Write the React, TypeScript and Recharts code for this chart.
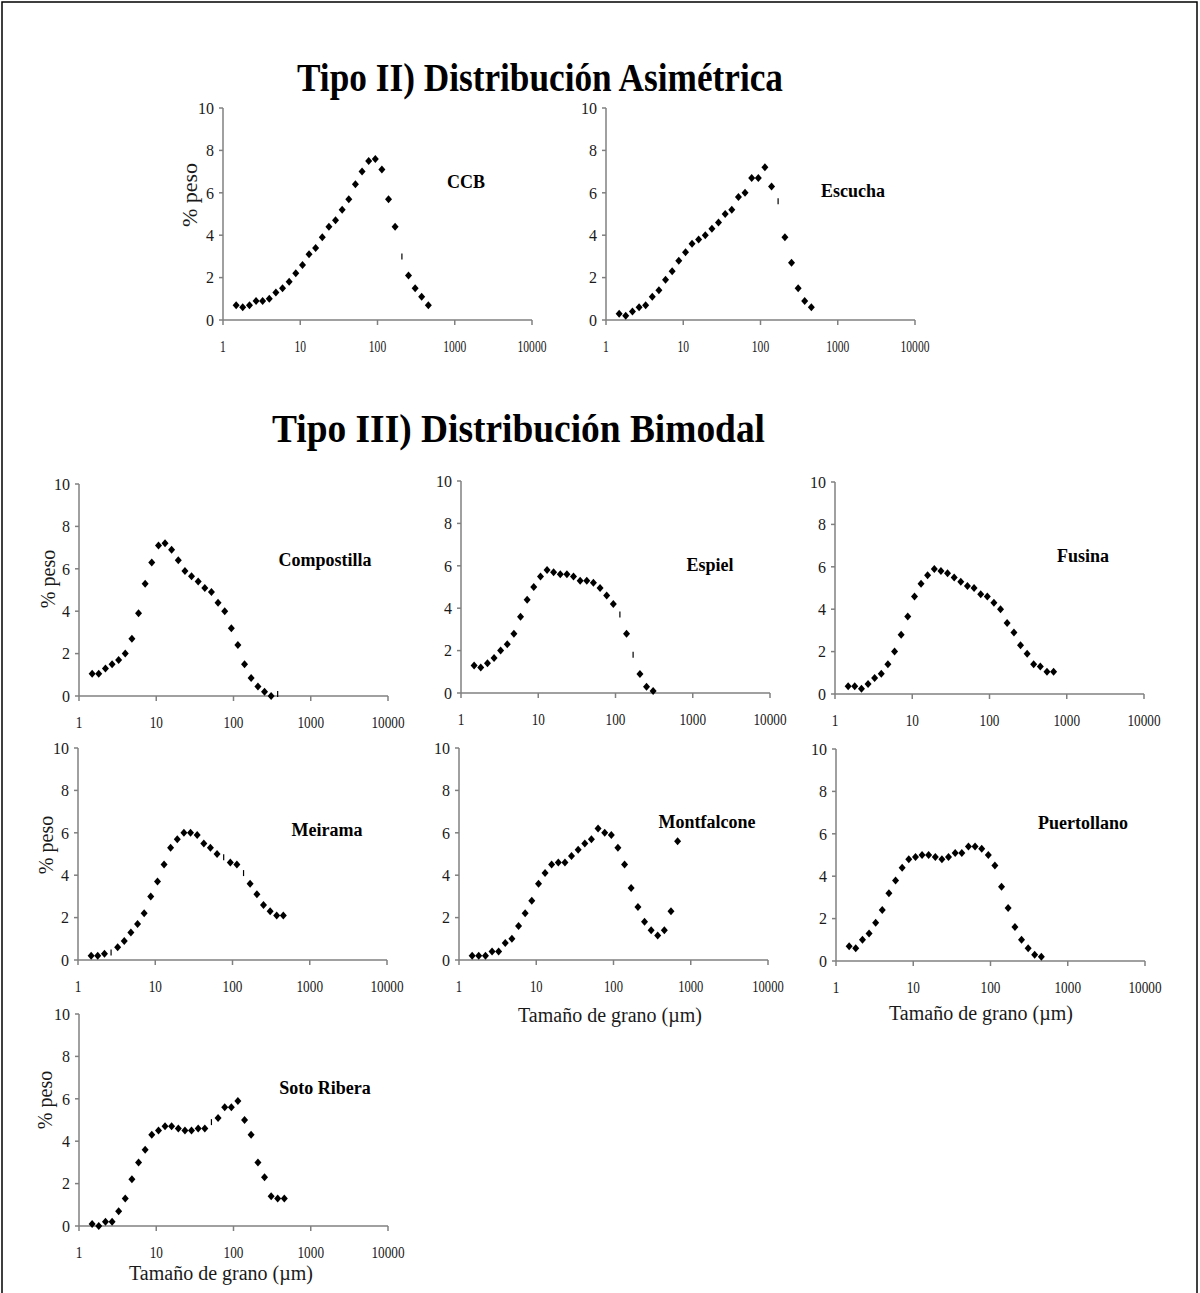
import React from 'react';
import { ScatterChart, Scatter, XAxis, YAxis } from 'recharts';

// particle size classes (µm), shared by every panel
const SIZES = [
  1.48, 1.8, 2.2, 2.68, 3.26, 3.97, 4.84, 5.9, 7.18, 8.75, 10.7, 13.0, 15.8, 19.3, 23.5, 28.6,
  34.9, 42.5, 51.8, 63.1, 76.9, 93.7, 114, 139, 169, 207, 252, 307, 373, 455, 555, 676,
];
const X_TICKS = [1, 10, 100, 1000, 10000];
const Y_TICKS = [0, 2, 4, 6, 8, 10];

// % peso per size class
const ccb = [0.7, 0.6, 0.7, 0.9, 0.9, 1.0, 1.3, 1.5, 1.8, 2.2, 2.6, 3.1, 3.4, 3.9, 4.4, 4.7, 5.2, 5.7, 6.4, 7.0, 7.5, 7.6, 7.1, 5.7, 4.4, 3.0, 2.1, 1.5, 1.1, 0.7];
const escucha = [0.3, 0.2, 0.4, 0.6, 0.7, 1.1, 1.4, 1.9, 2.3, 2.8, 3.2, 3.6, 3.8, 4.0, 4.3, 4.6, 5.0, 5.2, 5.8, 6.0, 6.7, 6.7, 7.2, 6.3, 5.6, 3.9, 2.7, 1.5, 0.9, 0.6];
const compostilla = [1.05, 1.05, 1.3, 1.5, 1.7, 2.0, 2.7, 3.9, 5.3, 6.3, 7.1, 7.2, 6.9, 6.4, 5.9, 5.65, 5.4, 5.1, 4.9, 4.4, 4.0, 3.2, 2.4, 1.5, 0.85, 0.45, 0.2, 0.0, 0.1];
const espiel = [1.3, 1.2, 1.4, 1.65, 2.0, 2.3, 2.8, 3.6, 4.4, 5.0, 5.5, 5.8, 5.7, 5.6, 5.6, 5.5, 5.3, 5.3, 5.2, 4.95, 4.6, 4.2, 3.7, 2.8, 1.8, 0.9, 0.3, 0.1];
const fusina = [0.37, 0.37, 0.25, 0.47, 0.76, 0.95, 1.4, 2.0, 2.8, 3.65, 4.6, 5.2, 5.6, 5.9, 5.8, 5.7, 5.5, 5.3, 5.1, 5.0, 4.7, 4.6, 4.3, 4.0, 3.35, 2.9, 2.3, 1.9, 1.4, 1.3, 1.05, 1.05];
const meirama = [0.2, 0.2, 0.3, 0.35, 0.6, 0.9, 1.3, 1.7, 2.2, 3.0, 3.7, 4.5, 5.3, 5.7, 6.0, 6.0, 5.9, 5.5, 5.3, 5.0, 4.85, 4.6, 4.5, 4.1, 3.6, 3.1, 2.6, 2.3, 2.1, 2.1];
const montfalcone = [0.2, 0.2, 0.2, 0.4, 0.4, 0.8, 1.0, 1.6, 2.2, 2.8, 3.6, 4.1, 4.5, 4.6, 4.6, 4.9, 5.2, 5.5, 5.7, 6.2, 6.0, 5.9, 5.3, 4.5, 3.4, 2.5, 1.8, 1.4, 1.15, 1.4, 2.3, 5.6];
const puertollano = [0.7, 0.6, 1.0, 1.3, 1.8, 2.4, 3.2, 3.8, 4.4, 4.8, 4.9, 5.0, 5.0, 4.9, 4.8, 4.9, 5.1, 5.1, 5.4, 5.4, 5.3, 5.0, 4.5, 3.5, 2.5, 1.6, 1.0, 0.6, 0.3, 0.2];
const sotoRibera = [0.1, 0.0, 0.2, 0.2, 0.7, 1.3, 2.2, 3.0, 3.6, 4.3, 4.5, 4.7, 4.7, 4.6, 4.5, 4.5, 4.6, 4.6, 4.9, 5.1, 5.6, 5.6, 5.9, 5.0, 4.3, 3.0, 2.3, 1.4, 1.3, 1.3];

// points that show up as a thin tick instead of a diamond in the original
const ccbDash = [25];
const escuchaDash = [24];
const compostillaDash = [28];
const espielDash = [22, 24];
const meiramaDash = [3, 20, 23];
const sotoDash = [18];

const SERIF = "'Liberation Serif', 'Times New Roman', serif";
const AXIS = '#808080';
const TEXT = '#1a1a1a';

const PW = 309; // plot width
const PH = 212; // plot height
const YW = 50;
const MT = 10;
const MR = 20;
const XH = 40;

interface PanelDef {
  name: string;
  values: number[];
  dashes: number[];
  left: number;
  top: number;
  squeeze: number;
}

const panels: PanelDef[] = [
  { name: 'CCB', values: ccb, dashes: ccbDash, left: 223, top: 108, squeeze: 0.68 },
  { name: 'Escucha', values: escucha, dashes: escuchaDash, left: 606, top: 108, squeeze: 0.68 },
  { name: 'Compostilla', values: compostilla, dashes: compostillaDash, left: 79, top: 484, squeeze: 0.78 },
  { name: 'Espiel', values: espiel, dashes: espielDash, left: 461, top: 481, squeeze: 0.78 },
  { name: 'Fusina', values: fusina, dashes: [], left: 835, top: 482, squeeze: 0.78 },
  { name: 'Meirama', values: meirama, dashes: meiramaDash, left: 78, top: 748, squeeze: 0.78 },
  { name: 'Montfalcone', values: montfalcone, dashes: [], left: 459, top: 748, squeeze: 0.74 },
  { name: 'Puertollano', values: puertollano, dashes: [], left: 836, top: 749, squeeze: 0.78 },
  { name: 'Soto Ribera', values: sotoRibera, dashes: sotoDash, left: 79, top: 1014, squeeze: 0.78 },
];

// series names, y titles and x titles (page coordinates)
const seriesLabels = [
  { text: 'CCB', x: 466, y: 182 },
  { text: 'Escucha', x: 853, y: 191 },
  { text: 'Compostilla', x: 325, y: 560 },
  { text: 'Espiel', x: 710, y: 565 },
  { text: 'Fusina', x: 1083, y: 556 },
  { text: 'Meirama', x: 327, y: 830 },
  { text: 'Montfalcone', x: 707, y: 822 },
  { text: 'Puertollano', x: 1083, y: 823 },
  { text: 'Soto Ribera', x: 325, y: 1088 },
];
const yTitles = [
  { x: 189, y: 195, size: 22 },
  { x: 48, y: 579, size: 20 },
  { x: 46, y: 845, size: 20 },
  { x: 45, y: 1100, size: 20 },
];
const xTitles = [
  { x: 610, y: 1015 },
  { x: 981, y: 1013 },
  { x: 221, y: 1273 },
];

const renderMark = (props: any) => {
  const { cx, cy, payload } = props;
  if (payload.dash) {
    return <line x1={cx} x2={cx} y1={cy - 3} y2={cy + 3} stroke="#000" strokeWidth={1.2} />;
  }
  return <path d={`M${cx},${cy - 4}L${cx + 3.5},${cy}L${cx},${cy + 4}L${cx - 3.5},${cy}Z`} fill="#000" />;
};

function XTick(props: any) {
  const { x, y, payload, squeeze } = props;
  return (
    <text
      transform={`translate(${x},${y + 25}) scale(${squeeze},1)`}
      textAnchor="middle"
      fontSize={17}
      fontFamily={SERIF}
      fill={TEXT}
    >
      {payload.value}
    </text>
  );
}

function YTick(props: any) {
  const { x, y, payload } = props;
  return (
    <text x={x} y={y} dy="0.36em" textAnchor="end" fontSize={16} fontFamily={SERIF} fill={TEXT}>
      {payload.value}
    </text>
  );
}

function Panel({ p }: { p: PanelDef }) {
  const data = p.values.map((v, i) => ({ size: SIZES[i], pct: v, dash: p.dashes.includes(i) }));
  return (
    <div style={{ position: 'absolute', left: p.left - YW, top: p.top - MT }}>
      <ScatterChart
        width={YW + PW + MR}
        height={MT + PH + XH}
        margin={{ top: MT, right: MR, bottom: 0, left: 0 }}
      >
        <XAxis
          type="number"
          dataKey="size"
          scale="log"
          domain={[1, 10000]}
          ticks={X_TICKS}
          interval={0}
          allowDataOverflow
          height={XH}
          stroke={AXIS}
          strokeWidth={1.5}
          tickSize={5}
          tick={(t: any) => <XTick {...t} squeeze={p.squeeze} />}
        />
        <YAxis
          type="number"
          dataKey="pct"
          domain={[0, 10]}
          ticks={Y_TICKS}
          interval={0}
          width={YW}
          stroke={AXIS}
          strokeWidth={1.5}
          tickSize={4}
          tickMargin={5}
          tick={(t: any) => <YTick {...t} />}
        />
        <Scatter data={data} shape={renderMark} isAnimationActive={false} />
      </ScatterChart>
    </div>
  );
}

export default function App() {
  return (
    <div style={{ position: 'absolute', left: 0, top: 0, width: 1200, height: 1293, background: '#fff', overflow: 'hidden' }}>
      {panels.map((p) => (
        <Panel key={p.name} p={p} />
      ))}
      <svg
        width={1200}
        height={1293}
        style={{ position: 'absolute', left: 0, top: 0, pointerEvents: 'none' }}
        fontFamily={SERIF}
      >
        <rect x={2} y={2} width={1195} height={1300} fill="none" stroke="#000" strokeWidth={1.5} />
        <text x={297} y={91} fontSize={40} fontWeight="bold" textLength={486} lengthAdjust="spacingAndGlyphs" fill="#000">
          Tipo II) Distribución Asimétrica
        </text>
        <text x={272} y={442} fontSize={40} fontWeight="bold" textLength={493} lengthAdjust="spacingAndGlyphs" fill="#000">
          Tipo III) Distribución Bimodal
        </text>
        {seriesLabels.map((l) => (
          <text key={l.text} x={l.x} y={l.y} dy="0.35em" textAnchor="middle" fontSize={18} fontWeight="bold" fill="#000">
            {l.text}
          </text>
        ))}
        {yTitles.map((t, i) => (
          <text
            key={i}
            transform={`translate(${t.x},${t.y}) rotate(-90)`}
            dy="0.35em"
            textAnchor="middle"
            fontSize={t.size}
            fill={TEXT}
          >
            % peso
          </text>
        ))}
        {xTitles.map((t, i) => (
          <text key={i} x={t.x} y={t.y} dy="0.35em" textAnchor="middle" fontSize={20} fill={TEXT}>
            Tamaño de grano (µm)
          </text>
        ))}
      </svg>
    </div>
  );
}
